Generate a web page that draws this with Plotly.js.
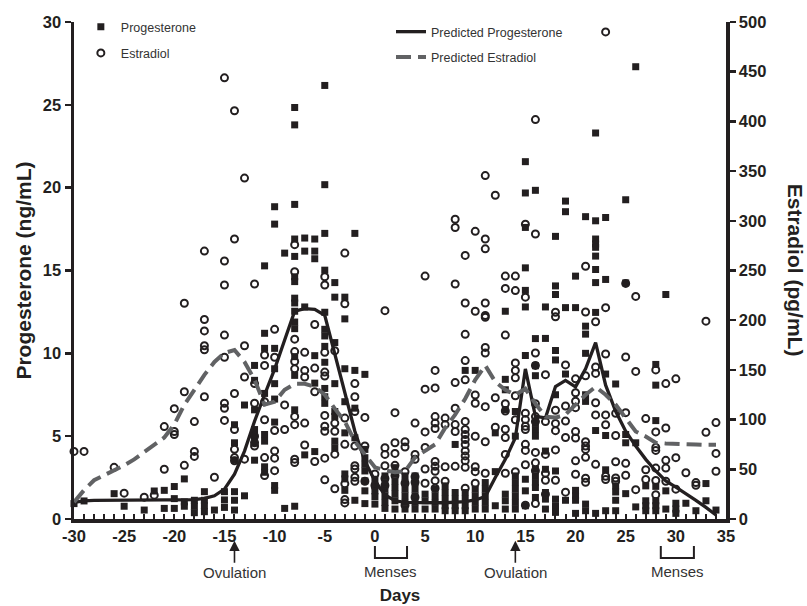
<!DOCTYPE html>
<html><head><meta charset="utf-8">
<script src="https://cdn.plot.ly/plotly-3.0.1.min.js"></script>
<style>html,body{margin:0;padding:0;background:#fff}</style>
</head><body><div id="chart" style="width:807px;height:606px"></div>
<script>
const FONT = 'Arial, "Liberation Sans", sans-serif';
const INK = '#231f20';

// Progesterone (ng/mL) observations, grouped by day
const progDays = [-30,-29,-26,-25,-23,-22,-21,-20,-19,-18,-17,-16,-15,-14,-13,-12,-11,-10,-9,-8,-7,-6,-5,-4,-3,-2,-1,0,1,2,3,4,5,6,7,8,9,10,11,12,13,14,15,16,17,18,19,20,21,22,23,24,25,26,27,28,29,30,31,32,33,34];
const progValues = [
 [0.93],[1.09],[1.53],[0.77],[0.54],[1.69],[1.73,0.64],[1.96,1.23,0.64],[2.42,1.03,0.77],[1.13,0.77,0.38],
 [1.65,1.13,0.8,0.44],[0.54],[1.65,1.15,0.7],[5.69,4.6,3.55,1.65,1.13,0.54],[6.88,1.4],
 [9.27,8.37,6.59,5.4,5.0,4.6,3.55],[15.28,11.21,10.3,7.58,5.1,4.7,3.15,2.82],
 [18.85,17.8,10.3,9.07,8.17,7.24,5.85,2.02,1.73],[16.05,0.64],
 [24.84,23.79,18.99,16.9,15.85,14.62,14.33,13.33,13.04,12.54,11.89,11.49,9.8,8.67,6.59,0.77],
 [16.96,16.17,12.8,3.87],[16.9,16.17,15.71,9.86,8.2,4.07],
 [26.17,20.18,17.24,15.02,12.48,11.45,11.05,10.42,9.46,7.88,7.38,6.98],
 [14.27,13.39,10.65,8.17,6.49,6.19,4.7,4.3],[13.39,12.08,9.07,7.08,5.2,2.72,2.42,1.73],
 [17.24,8.97,6.69,4.9,1.13],[8.73,4.2,3.7,3.3,2.9,2.3,1.7,0.93],[2.4,2.0,1.7,1.35,0.9],
 [2.6,2.2,1.8,1.4,1.0,0.64],[3.1,2.7,2.3,1.9,1.5,1.1,0.6],[2.6,2.2,1.8,1.4,1.0,0.6],[2.6,2.2,1.8,1.4,1.0,0.6],
 [1.5,1.1,0.6],[1.8,1.4,1.0,0.6],[2.0,1.6,1.2,0.8,0.5],[4.5,1.6,1.2,0.8,0.5],[8.97,1.6,1.2,0.8,0.5],
 [8.97,1.8,1.4,1.0,0.6],[2.2,1.8,1.4,1.0,0.6],[5.2,2.86,0.8],[12.54,8.43,7.8,6.6,1.5,1.1,0.6],
 [6.49,5.0,2.6,2.2,1.8,1.4,1.0,0.6],[21.57,19.68,17.6,15.16,13.8,12.8,9.87,2.4,1.7,0.8],
 [19.84,10.89,9.25,8.65,5.8,5.4,5.0,3.0,2.6,2.2,1.9,1.3],[12.8,10.9,4.1,3.0,1.6,1.2,0.6],
 [17.06,14.07,13.55,10.17,9.6,7.5,2.9,1.2,0.8,0.4],[19.19,18.55,12.76,8.75,1.13],
 [14.66,12.76,1.73,1.4,1.13,0.34],[18.25,11.64,11.16,10.0,7.5,7.1,0.9,0.5],
 [23.3,18.0,16.9,16.6,16.4,15.87,15.06,14.27,12.47,5.34,0.34],[18.2,14.46,8.75,5.04,2.97,0.5],
 [8.15,2.0,1.63,1.13,0.5],[19.27,14.25,5.1,4.6,1.53],[27.3,4.6,0.73],[2.0,1.1,0.8,0.5],
 [9.33,8.08,5.94,1.97,1.1,0.8,0.5],[13.55,1.7,0.6],[0.95,0.6,0.34],[0.95],[0.5],[2.14,1.1],[0.54]
];

// Estradiol (pg/mL) observations, grouped by day
const estDays = [-30,-29,-26,-25,-23,-22,-21,-20,-19,-18,-17,-16,-15,-14,-13,-12,-11,-10,-9,-8,-7,-6,-5,-4,-3,-2,-1,0,1,2,3,4,5,6,7,8,9,10,11,12,13,14,15,16,17,18,19,20,21,22,23,24,25,26,27,28,29,30,31,32,33,34];
const estValues = [
 [68],[68],[52],[26],[22],[24],[93,50],[111,88,85],[217,128,54],[98,68,63],
 [269.5,200.7,189.2,174.3,170.3,123],[42],[443.8,259.6,235.4,185,162.7,116.4,111.4,99.2],
 [410.7,281.7,126.3,90,70.1,61.8,58.5],[343,174.3,142.9,60.2],[236.4,136.2,116.4,83.3,76.7,73.4],
 [165,154.5,118,99.9,61.8,43.7],[190.8,162.7,89,68.5,61.2,48.6],[114.8,90],
 [276,248.7,180.9,168.4,158.4,151.1,103.2,94.9,60.2,56.8],[167.7,149.5,142.9,96.5,74.4],
 [195.7,151.8,128,57.8],[243.7,235.4,167.7,147.8,143.8,104.2,93.3,88.3,61.2,39.4],
 [169.3,96.5,88.3,65.2,30.4],[267.5,216.6,101.5,75.1,35.4,19.5,16.2],
 [136.2,123,108.1,73.4,53.6,50.3,42,38],[102.2,73.4,38],[45.3,33.7],
 [209.6,71.7,65,53.6,40.7,33.7],[107,76.7,66,54,43.7],[77.7,72.4,47.6,36,13.9],
 [96.5,65,60,42.6,37,22],[244.4,130.6,87.6,72,50.3,36],[149.5,131.9,103,96.5,91,57.9,53,48,38.6,31],
 [101.5,95,52.6,38],[301.6,293.3,236.4,137.2,111.4,95,88,53],
 [265.2,217.3,185.8,159.4,140,98.2,90,85,80,75,68.5,63.5,58.5,52,31],
 [289.4,209,124.7,116.4,83.3,52.6,47.6,36],[345.5,281.7,271.8,217.3,204.7,203,172.6,167,113,77.7,46],
 [325.7,122,92.3],[244.4,232,185,116,108.6,90.3,82,65,46],[244.4,229.8,157,149.5,142,124,99.9,47.6],
 [296.6,223.2,106.5,100,93.3,90,75.1,69,54.6,13.9],[401.8,286.7,167,154.5,116,103,98,67,56.5,48.6,15.5],
 [145.2,98,65,46,39,25],[208,203.4,109.4,96.2,88.9,69.5,39],[155,113.7,98.5,82,27],
 [141,127,118.5,112,88,81.5,58.5,45],[254.3,208.3,144,77.7,73.4,70,62,41,37],
 [198.4,153,146.5,117,104.7,55],[490,212.6,166,104.7,94.8,43,39.7],[106.3,84,57.6,41.3,38],
 [237,163,107,56,44],[223.9,148.5,29.5],[101,49.6,39.7],[150,87.6,72,69,51.2,38.7,24.5],
 [136.2,91.6,59,51.2,38],[141,61.7,30],[46.5],[36.6,34],[199,87.2],[97,66,48]
];

// Model predictions by day
const predDays = [-30,-29,-28,-27,-26,-25,-24,-23,-22,-21,-20,-19,-18,-17,-16,-15,-14,-13,-12,-11,-10,-9,-8,-7,-6,-5,-4,-3,-2,-1,0,1,2,3,4,5,6,7,8,9,10,11,12,13,14,15,16,17,18,19,20,21,22,23,24,25,26,27,28,29,30,31,32,33,34];
const predProgesterone = [1.0,1.1,1.12,1.13,1.14,1.15,1.15,1.15,1.15,1.15,1.15,1.15,1.17,1.25,1.4,1.8,2.7,4.1,5.9,7.5,9.05,10.8,12.55,12.7,12.65,12.3,9.9,7.7,5.3,3.5,2.3,1.45,1.1,1.0,0.98,0.98,0.98,0.98,1.0,1.05,1.15,1.35,2.5,3.6,4.9,9.06,6.2,6.1,8.0,8.37,7.98,9.07,10.65,8.08,6.5,5.3,4.4,3.6,2.9,2.3,1.92,1.55,1.13,0.7,0.24];
const predEstradiol = [17,29,39,44,48,54,60,67,75,82,95,115,130,145,158,167,170,158,140,115,118,130,136,136,133,125,111,98,78,65,52,49,47,48,62,68.5,75,91.6,105,121,140,154.5,138,130,125,131,116,103,102,105,115,125,133,125,115,101.5,88,83,76.7,76,76,75,75,74.6,74.6];

// Tick labels
const xTickVals = [-30,-25,-20,-15,-10,-5,0,5,10,15,20,25,30,35];
const xTickText = ['-30','-25','-20','-15','-10','-5','0','5','10','15','20','25','30','35'];

// Annotated events
const ovulationDays = [-14, 14];
const mensesSpans = [[0, 3.2], [28.5, 31.8]];

function flatten(days, values) {
  const x = [], y = [];
  days.forEach((d, i) => values[i].forEach(v => { x.push(d); y.push(v); }));
  return {x, y};
}
const prog = flatten(progDays, progValues);
const est = flatten(estDays, estValues);

const traces = [
  {type:'scatter', mode:'markers', name:'Progesterone', x:prog.x, y:prog.y, legend:'legend', legendgroup:'a',
   marker:{symbol:'square', size:7, color:INK}, cliponaxis:false},
  {type:'scatter', mode:'markers', name:'Estradiol', x:est.x, y:est.y, yaxis:'y2', legend:'legend', legendgroup:'b',
   marker:{symbol:'circle-open', size:7, color:INK, line:{width:2, color:INK}}, cliponaxis:false},
  {type:'scatter', mode:'lines', name:'Predicted Progesterone', x:predDays, y:predProgesterone, legend:'legend2', legendgroup:'c',
   line:{color:INK, width:3.3}},
  {type:'scatter', mode:'lines', name:'Predicted Estradiol', x:predDays, y:predEstradiol, yaxis:'y2', legend:'legend2', legendgroup:'d',
   line:{color:'#616264', width:4, dash:'15px,7px'}}
];

const py = px => (519 - px) / 504; // pixel row -> paper y

const annotations = [];
ovulationDays.forEach(d => annotations.push({
  x:d, xref:'x', y:py(541), yref:'paper', text:'Ovulation', showarrow:true,
  arrowhead:2, arrowsize:1.3, arrowwidth:1.6, arrowcolor:INK, ax:0, ay:32,
  font:{size:15, color:'#333', family:FONT}
}));
mensesSpans.forEach(s => annotations.push({
  x:(s[0]+s[1])/2, xref:'x', y:py(572), yref:'paper', yanchor:'middle', text:'Menses', showarrow:false,
  font:{size:15, color:'#333', family:FONT}
}));
annotations.push({x:1.107, xref:'paper', xanchor:'center', y:0.5, yref:'paper', yanchor:'middle',
  text:'Estradiol (pg/mL)', textangle:90,
  showarrow:false, font:{size:21, weight:700, color:INK, family:FONT}});

const shapes = mensesSpans.map(s => ({
  type:'path', xref:'x', yref:'paper',
  path:`M ${s[0]},${py(546.5)} L ${s[0]},${py(558.5)} L ${s[1]},${py(558.5)} L ${s[1]},${py(546.5)}`,
  line:{color:INK, width:2}
}));

function axisBase() {
  return {showline:true, linewidth:3.5, linecolor:INK, zeroline:false, showgrid:false,
    tickcolor:INK, tickfont:{size:16.5, weight:700, color:INK, family:FONT}};
}

const layout = {
  width:807, height:606, margin:{l:74, r:81, t:15, b:87},
  paper_bgcolor:'#fff', plot_bgcolor:'#fff', font:{family:FONT, color:INK},
  showlegend:true,
  xaxis:Object.assign(axisBase(), {range:[-30,35], tickmode:'array', tickvals:xTickVals, ticktext:xTickText,
    ticks:'inside', ticklen:5, tickwidth:2,
    minor:{tickmode:'linear', tick0:0, dtick:1, ticks:'inside', ticklen:5, tickwidth:2, tickcolor:INK, showgrid:false},
    title:{text:'Days', font:{size:17, weight:700, color:INK, family:FONT}, standoff:46}}),
  yaxis:Object.assign(axisBase(), {range:[0,30], tickmode:'linear', tick0:0, dtick:5,
    ticks:'outside', ticklen:6, tickwidth:2.5,
    title:{text:'Progesterone (ng/mL)', font:{size:21, weight:700, color:INK, family:FONT}, standoff:6}}),
  yaxis2:Object.assign(axisBase(), {range:[0,500], tickmode:'linear', tick0:0, dtick:50,
    overlaying:'y', side:'right', ticks:'outside', ticklen:6, tickwidth:2.5}),
  legend:{x:0.0105, y:1.02, xanchor:'left', yanchor:'top', bgcolor:'rgba(0,0,0,0)',
    font:{size:12.5, color:'#333', family:FONT}, tracegroupgap:7},
  legend2:{x:0.4862, y:1.01, xanchor:'left', yanchor:'top', bgcolor:'rgba(0,0,0,0)',
    font:{size:12.5, color:'#333', family:FONT}, tracegroupgap:6},
  annotations, shapes
};

Plotly.newPlot('chart', traces, layout, {displayModeBar:false, staticPlot:true});
</script></body></html>
